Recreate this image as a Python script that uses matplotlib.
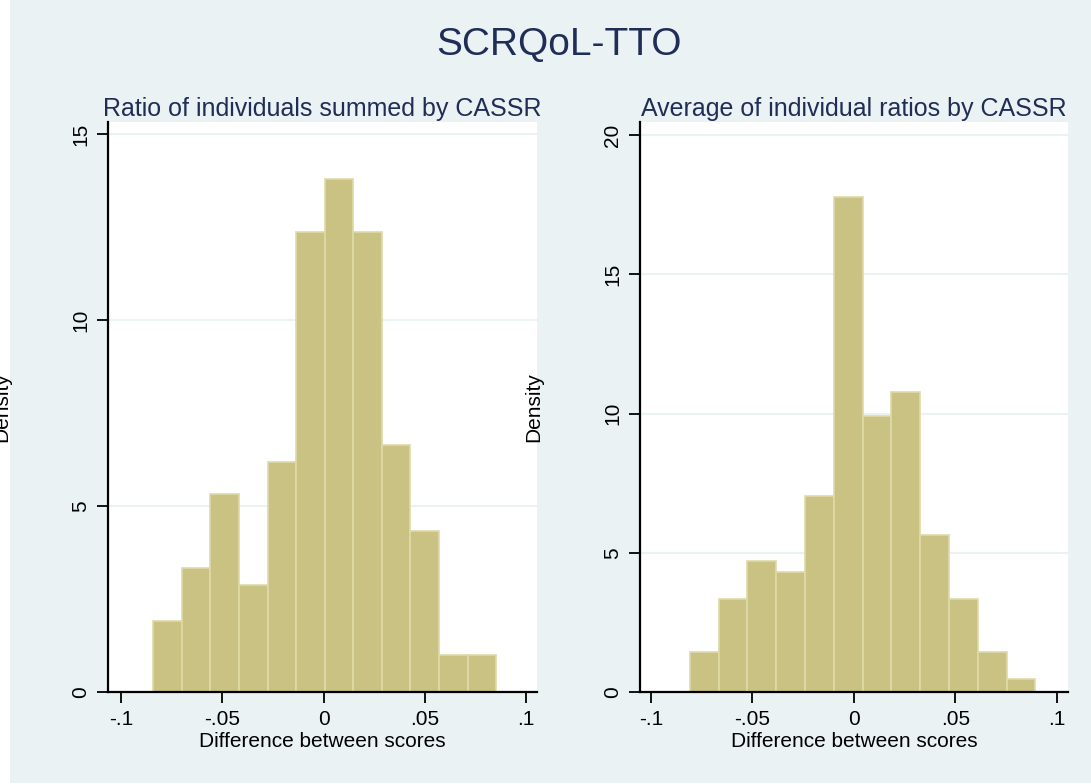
import matplotlib.pyplot as plt
from matplotlib.patches import Rectangle

plt.rcParams['font.family'] = ['Liberation Sans', 'DejaVu Sans']

# histogram data (density per bin)
left_start = -0.0840
left_width = 0.0141
left_heights = [1.91, 3.34, 5.31, 2.88, 6.19, 12.36, 13.79, 12.36, 6.65, 4.34, 1.0, 1.0]

right_start = -0.0808
right_width = 0.01419
right_heights = [1.43, 3.34, 4.70, 4.31, 7.04, 17.77, 9.91, 10.76, 5.64, 3.34, 1.43, 0.47]

x_ticks = [-0.1, -0.05, 0, 0.05, 0.1]
x_tick_labels = ['-.1', '-.05', '0', '.05', '.1']
left_yticks = [0, 5, 10, 15]
right_yticks = [0, 5, 10, 15, 20]

bg = '#EAF2F3'
bar_color = '#C9C282'
bar_edge = '#DEDAA9'
navy = '#1F2D57'

fig = plt.figure(figsize=(10.91, 7.84), dpi=100)
fig.patch.set_facecolor('white')
fig.patches.append(Rectangle((10 / 1091, 1 / 784), 1 - 10 / 1091, 1 - 1 / 784,
                             transform=fig.transFigure, facecolor=bg, edgecolor='none', zorder=-10))

fig.text(559 / 1091, 1 - 45 / 784, 'SCRQoL-TTO', ha='center', va='center', fontsize=28, color=navy)

panels = [
    ([108 / 1091, 92 / 784, 429 / 1091, 570 / 784], left_start, left_width, left_heights,
     left_yticks, (-0.1064, 0.1054), 15.32, 'Ratio of individuals summed by CASSR'),
    ([640 / 1091, 92 / 784, 428 / 1091, 570 / 784], right_start, right_width, right_heights,
     right_yticks, (-0.1054, 0.1056), 20.47, 'Average of individual ratios by CASSR'),
]

for rect, start, width, heights, yticks, xlim, ytop, title in panels:
    ax = fig.add_axes(rect)
    ax.set_facecolor('white')
    edges = [start + i * width for i in range(len(heights))]
    ax.bar(edges, heights, width=width, align='edge', color=bar_color,
           edgecolor=bar_edge, linewidth=1.2, zorder=2)
    ax.set_xlim(*xlim)
    ax.set_ylim(0, ytop)
    ax.set_xticks(x_ticks)
    ax.set_xticklabels(x_tick_labels, fontsize=15)
    ax.set_yticks(yticks)
    ax.set_yticklabels([str(t) for t in yticks], fontsize=15, rotation=90, va='center')
    ax.tick_params(direction='out', length=8, width=1.3, color='black', pad=5)
    for s in ['top', 'right']:
        ax.spines[s].set_visible(False)
    for s in ['left', 'bottom']:
        ax.spines[s].set_linewidth(1.6)
    ax.yaxis.grid(True, color=bg, linewidth=1.5, zorder=0)
    ax.set_axisbelow(True)
    ax.set_xlabel('Difference between scores', fontsize=15, labelpad=2)
    ax.set_ylabel('Density', fontsize=15)
    ax.yaxis.set_label_coords(-97 / 429, 0.5)
    ax.set_title(title, fontsize=18, color=navy, pad=4)

fig.savefig('out.png', dpi=100)
